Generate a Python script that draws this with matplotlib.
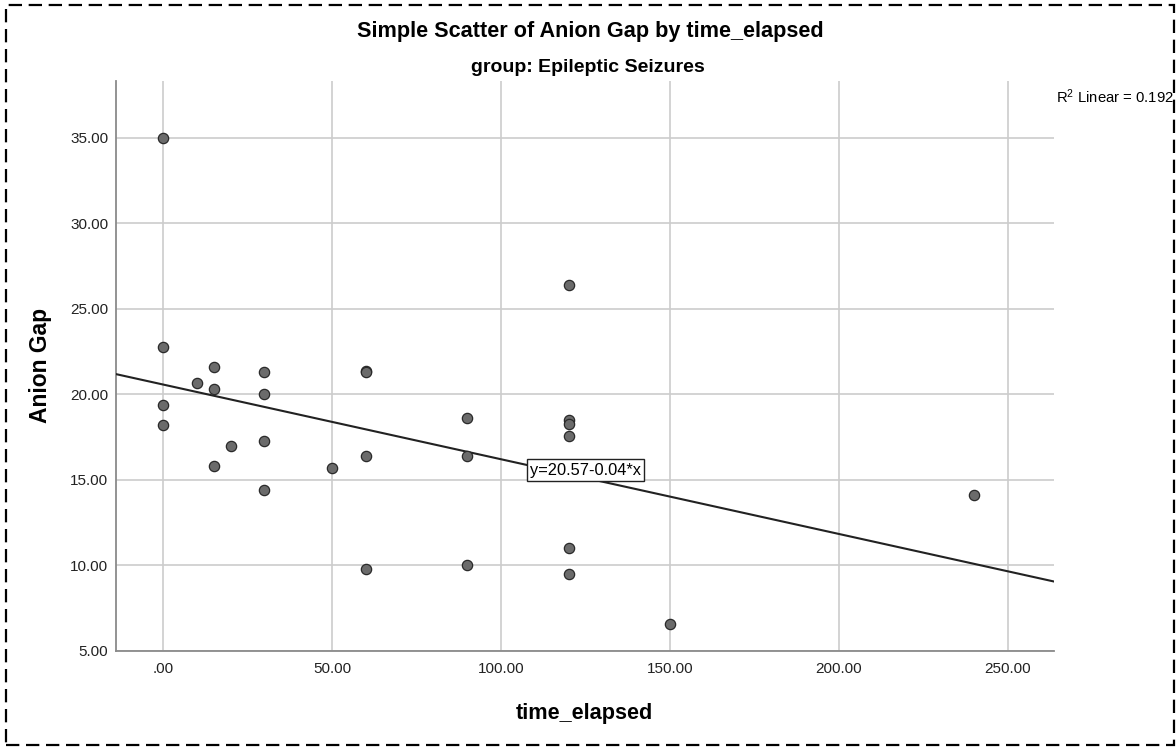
import numpy as np
import matplotlib
matplotlib.use("Agg")
import matplotlib.pyplot as plt
from matplotlib.patches import Rectangle

# ---- data ----
time_elapsed = [0, 0, 0, 0,
                10,
                15, 15, 15,
                20,
                30, 30, 30, 30,
                50,
                60, 60, 60, 60,
                90, 90, 90,
                120, 120, 120, 120, 120, 120,
                150,
                240]
anion_gap = [35.0, 22.8, 19.4, 18.2,
             20.7,
             21.6, 20.3, 15.8,
             17.0,
             21.3, 20.0, 17.3, 14.4,
             15.7,
             21.4, 21.3, 16.4, 9.8,
             18.6, 16.4, 10.0,
             26.4, 18.5, 18.3, 17.6, 11.0, 9.5,
             6.6,
             14.1]
x_ticks = [0, 50, 100, 150, 200, 250]
x_tick_labels = [".00", "50.00", "100.00", "150.00", "200.00", "250.00"]
y_ticks = [5, 10, 15, 20, 25, 30, 35]
y_tick_labels = ["5.00", "10.00", "15.00", "20.00", "25.00", "30.00", "35.00"]
title = "Simple Scatter of Anion Gap by time_elapsed"
subtitle = "group: Epileptic Seizures"
r2_text = r"R$^2$ Linear = 0.192"
eq_text = "y=20.57-0.04*x"

plt.rcParams['font.family'] = ['Liberation Sans', 'DejaVu Sans']
plt.rcParams['mathtext.fontset'] = 'custom'
plt.rcParams['mathtext.rm'] = 'Liberation Sans'
plt.rcParams['mathtext.it'] = 'Liberation Sans'

W, H = 1176, 753
fig = plt.figure(figsize=(W / 100, H / 100), dpi=100)
ax = fig.add_axes([116 / W, 1 - 651 / H, (1054 - 116) / W, (651 - 81) / H])

x = np.array(time_elapsed, dtype=float)
y = np.array(anion_gap, dtype=float)

xlim = (-13.9, 263.6)
ylim = (5, 38.33)
ax.set_xlim(*xlim)
ax.set_ylim(*ylim)

ax.set_xticks(x_ticks)
ax.set_xticklabels(x_tick_labels)
ax.set_yticks(y_ticks)
ax.set_yticklabels(y_tick_labels)
ax.tick_params(length=0, labelsize=11, colors='#222222')
ax.tick_params(axis='y', pad=5.5)
ax.tick_params(axis='x', pad=8)

ax.grid(True, color='#cccccc', linewidth=1.2)
ax.set_axisbelow(True)
for s in ['top', 'right']:
    ax.spines[s].set_visible(False)
for s in ['left', 'bottom']:
    ax.spines[s].set_color('#8a8a8a')
    ax.spines[s].set_linewidth(1.3)

# fit line
slope, intercept = np.polyfit(x, y, 1)
xs = np.array(xlim)
ax.plot(xs, intercept + slope * xs, color='#222222', linewidth=1.5, zorder=3)

ax.scatter(x, y, s=55, facecolor='#6b6b6b', edgecolor='#2a2a2a', linewidth=0.9, zorder=4)

ax.text(125.0, 15.58, eq_text, ha='center', va='center', fontsize=11.8, zorder=5,
        bbox=dict(boxstyle='square,pad=0.2', facecolor='white', edgecolor='#222222', linewidth=1))

fig.text(584.5 / W, 1 - 713 / H, "time_elapsed", ha='center', va='center',
         fontsize=15.6, fontweight='bold')
fig.text(41 / W, 1 - 365 / H, "Anion Gap", ha='center', va='center', rotation=90,
         fontsize=16.5, fontweight='bold')

fig.text(590 / W, 1 - 32 / H, title, ha='center', va='center', fontsize=15.6, fontweight='bold')
fig.text(587.5 / W, 1 - 68 / H, subtitle, ha='center', va='center', fontsize=14, fontweight='bold')
fig.text(1056 / W, 1 - 97 / H, r2_text, ha='left', va='center', fontsize=10.7)

border = Rectangle((6 / W, 1 - 745 / H), (1174 - 6) / W, (745 - 5) / H, transform=fig.transFigure,
                   fill=False, edgecolor='black', linewidth=1.6, linestyle=(0, (6, 3)))
fig.patches.append(border)

fig.savefig("out.png", dpi=100)
